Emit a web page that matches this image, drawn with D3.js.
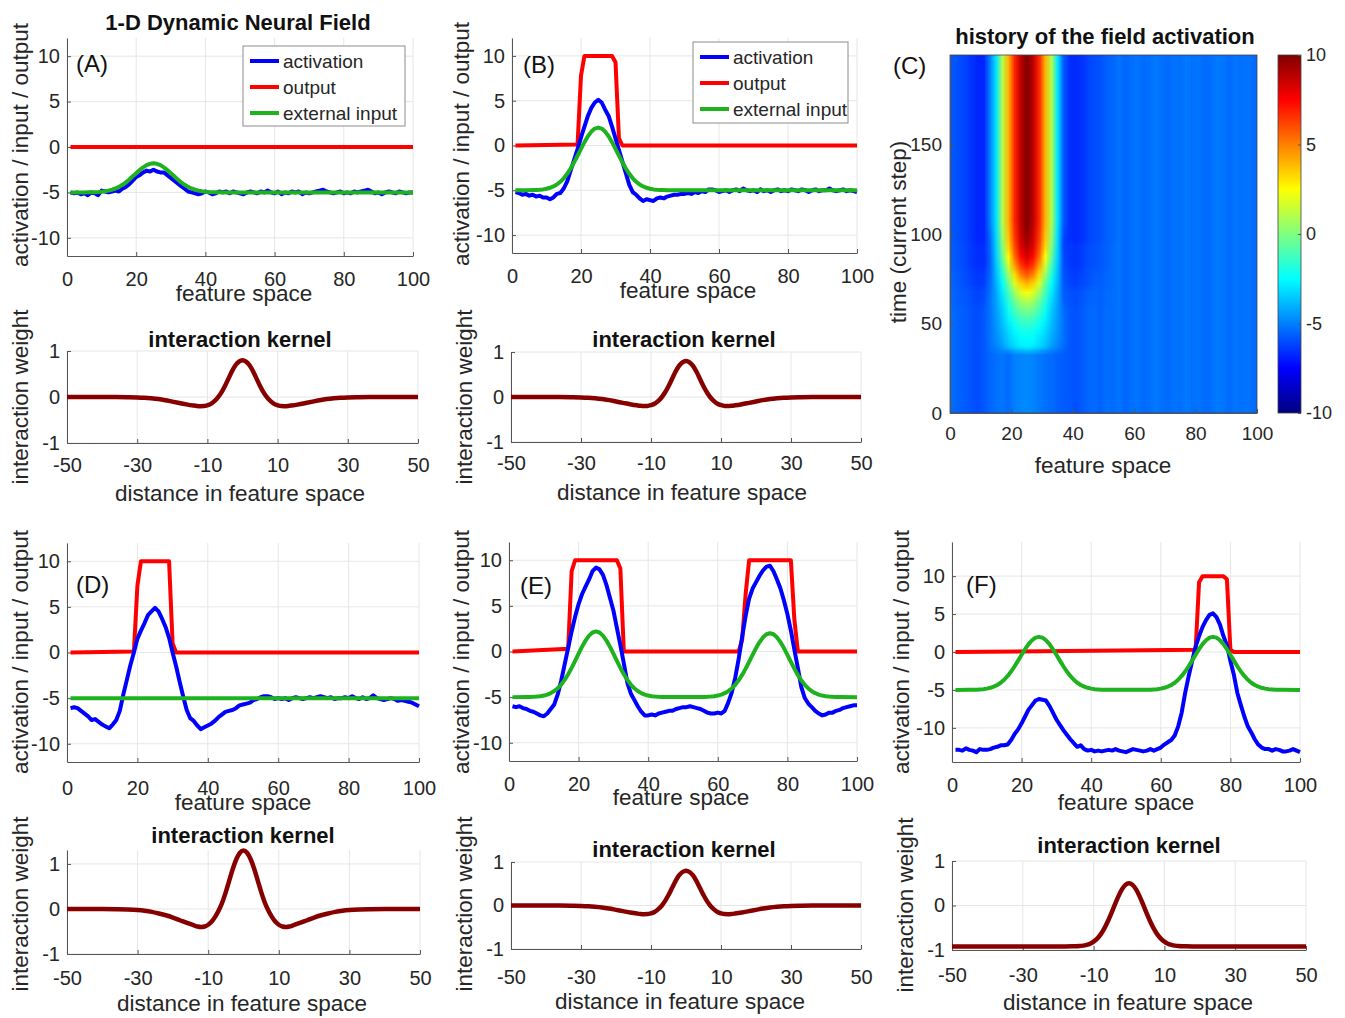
<!DOCTYPE html>
<html><head><meta charset="utf-8">
<script src="https://cdn.jsdelivr.net/npm/d3@7"></script>
<style>body{margin:0;background:#fff}</style>
</head><body>
<svg id="chart" width="1345" height="1018"></svg>
<script>
// ---------------- DATA ----------------
const fieldX = d3.range(1, 101);
const fieldTicks = [0, 20, 40, 60, 80, 100];
const fieldValueTicks = [-10, -5, 0, 5, 10];
const kernelTicks = [-50, -30, -10, 10, 30, 50];
const kernelValueTicks = [-1, 0, 1];
const timeTicks = [0, 50, 100, 150];
const colorbarTicks = [-10, -5, 0, 5, 10];
const legendLabels = ["activation", "output", "external input"];

const actA = [-5.0,-5.1,-5.0,-5.2,-5.1,-5.3,-5.0,-5.1,-5.3,-4.8,-4.9,-5.0,-4.9,-4.8,-4.9,-4.6,-4.4,-4.1,-3.7,-3.3,
-3.1,-2.8,-2.6,-2.7,-2.5,-2.7,-2.8,-2.8,-3.1,-3.4,-3.7,-4.0,-4.3,-4.6,-4.9,-5.0,-5.1,-5.2,-5.1,-4.9,
-5.0,-5.2,-5.1,-4.9,-5.0,-4.9,-5.1,-4.9,-5.0,-5.1,-5.2,-5.0,-4.9,-5.0,-5.1,-4.9,-5.0,-4.8,-5.0,-5.1,
-4.9,-5.2,-5.0,-5.1,-4.9,-5.0,-4.9,-5.2,-5.0,-5.1,-5.0,-4.9,-4.8,-4.7,-4.9,-5.0,-5.1,-5.0,-4.9,-5.1,
-5.0,-5.1,-4.9,-5.0,-4.9,-4.8,-4.7,-4.9,-5.1,-5.0,-5.2,-5.0,-4.9,-5.0,-5.1,-4.9,-5.0,-5.1,-5.0,-5.0];
const actB = [-5.2,-5.3,-5.5,-5.4,-5.6,-5.5,-5.7,-5.6,-5.8,-5.8,-6.0,-5.8,-5.4,-5.3,-4.8,-4.0,-2.8,-1.6,-0.4,0.9,
2.1,3.3,4.2,4.8,5.1,4.8,4.0,3.3,2.1,0.8,-0.5,-1.8,-3.1,-4.4,-5.2,-5.5,-5.9,-6.2,-6.0,-6.1,
-6.2,-5.9,-5.8,-5.9,-5.7,-5.6,-5.5,-5.5,-5.4,-5.4,-5.3,-5.4,-5.2,-5.3,-5.1,-5.2,-4.9,-4.9,-5.0,-5.2,
-5.1,-5.0,-5.2,-5.0,-4.9,-5.1,-4.8,-5.0,-5.1,-5.0,-5.2,-4.9,-5.1,-5.0,-5.2,-5.0,-4.9,-5.1,-5.0,-5.1,
-4.9,-5.0,-5.1,-4.9,-5.0,-5.2,-5.0,-4.9,-5.1,-5.0,-5.0,-4.8,-5.0,-5.1,-5.0,-4.9,-5.1,-5.0,-5.1,-5.2];
const actD = [-6.1,-6.0,-6.1,-6.4,-6.7,-7.0,-7.4,-7.3,-7.6,-7.9,-8.1,-8.3,-7.9,-7.4,-6.4,-4.6,-3.0,-1.4,0.0,1.5,
2.4,3.2,4.1,4.5,4.9,4.5,3.7,2.8,1.6,0.0,-1.5,-3.2,-4.8,-6.3,-7.2,-7.5,-8.0,-8.4,-8.2,-8.0,
-7.8,-7.5,-7.1,-6.8,-6.5,-6.4,-6.3,-6.1,-5.8,-5.7,-5.6,-5.5,-5.2,-5.1,-4.9,-4.8,-4.8,-4.9,-5.1,-5.0,
-5.1,-5.0,-5.2,-5.0,-4.9,-5.0,-5.1,-5.0,-4.9,-5.0,-4.9,-4.8,-4.9,-5.0,-4.9,-5.1,-5.0,-5.0,-4.9,-5.0,
-4.8,-5.0,-5.1,-4.9,-5.1,-5.0,-4.7,-5.0,-5.1,-5.2,-5.1,-5.0,-5.1,-5.3,-5.2,-5.3,-5.4,-5.5,-5.7,-5.9];
const actE = [-6.0,-6.1,-6.0,-6.2,-6.3,-6.5,-6.6,-6.8,-7.0,-7.1,-6.8,-6.3,-5.8,-4.7,-3.2,-1.4,0.4,2.2,3.8,5.2,
6.3,7.1,7.9,8.8,9.2,9.0,8.4,7.3,5.9,4.5,2.6,0.7,-1.3,-3.4,-4.6,-5.3,-6.0,-6.6,-7.0,-7.0,
-6.9,-7.0,-6.8,-6.7,-6.6,-6.5,-6.5,-6.3,-6.2,-6.1,-6.1,-6.0,-6.1,-6.2,-6.3,-6.5,-6.7,-6.8,-6.8,-6.7,
-6.8,-6.5,-5.6,-4.5,-2.9,-0.8,1.6,3.9,5.8,6.9,7.6,8.3,8.9,9.3,9.4,8.8,7.9,6.9,5.6,4.1,
2.3,0.2,-1.8,-3.9,-5.1,-5.7,-6.1,-6.5,-6.8,-7.0,-6.9,-6.7,-6.7,-6.5,-6.4,-6.2,-6.1,-6.0,-5.9,-5.9];
const actF = [-12.9,-12.9,-13.0,-12.7,-12.9,-13.0,-13.2,-12.8,-12.9,-12.9,-12.8,-12.6,-12.5,-12.3,-12.3,-12.2,-11.6,-10.8,-10.2,-9.4,
-8.5,-7.6,-7.0,-6.4,-6.2,-6.3,-6.4,-7.1,-8.0,-8.9,-9.6,-10.3,-10.9,-11.5,-12.0,-12.5,-12.3,-12.8,-13.0,-12.9,
-13.1,-13.0,-13.1,-13.0,-12.9,-13.0,-12.8,-13.0,-13.1,-13.2,-13.0,-12.8,-12.9,-13.0,-13.1,-13.0,-12.8,-13.0,-12.8,-12.6,
-12.2,-11.9,-11.6,-11.0,-9.8,-8.0,-5.4,-3.2,-1.2,0.7,2.1,3.3,4.2,4.9,5.1,4.6,3.6,2.1,0.9,-1.2,
-3.0,-5.4,-7.0,-8.5,-9.8,-10.6,-11.5,-12.2,-12.6,-12.8,-12.8,-13.0,-12.8,-12.9,-13.1,-13.1,-13.0,-12.8,-13.0,-13.2];

const outA = [[1,0],[100,0]];
const outB = [[1,0],[19,0.1],[20,7.8],[21,10],[29,10],[30,9.3],[31,0.8],[32,0],[100,0]];
const outD = [[1,0],[19,0.1],[20,7.3],[21,10],[29,10],[30,1.0],[31,0],[100,0]];
const outE = [[1,0],[17,0.3],[18,8.8],[19,10],[31,10],[32,9.1],[33,0],[66,0],[67,1.3],[68,6.3],[69,10],[81,10],[82,3.5],[83,0],[100,0]];
const outF = [[1,0],[70,0.3],[71,9.2],[72,10],[78,10],[79,9.6],[80,0.3],[81,0],[100,0]];

const inA = [[1,-5],[5,-5],[6,-4.99],[7,-4.98],[8,-4.97],[9,-4.95],[10,-4.92],[11,-4.87],[12,-4.80],[13,-4.70],[14,-4.57],[15,-4.39],[16,-4.16],[17,-3.89],[18,-3.58],[19,-3.23],[20,-2.88],[21,-2.54],[22,-2.24],[23,-2.00],[24,-1.85],[25,-1.80],
[26,-1.85],[27,-2.00],[28,-2.24],[29,-2.54],[30,-2.88],[31,-3.23],[32,-3.58],[33,-3.89],[34,-4.16],[35,-4.39],[36,-4.57],[37,-4.70],[38,-4.80],[39,-4.87],[40,-4.92],[41,-4.95],[42,-4.97],[43,-4.98],[44,-4.99],[45,-5],[100,-5]];
const inB = [[1,-5],[5,-4.99],[6,-4.98],[7,-4.97],[8,-4.94],[9,-4.90],[10,-4.83],[11,-4.72],[12,-4.57],[13,-4.35],[14,-4.05],[15,-3.66],[16,-3.16],[17,-2.57],[18,-1.88],[19,-1.14],[20,-0.37],[21,0.37],[22,1.03],[23,1.55],[24,1.89],[25,2.00],
[26,1.89],[27,1.55],[28,1.03],[29,0.37],[30,-0.37],[31,-1.14],[32,-1.88],[33,-2.57],[34,-3.16],[35,-3.66],[36,-4.05],[37,-4.35],[38,-4.57],[39,-4.72],[40,-4.83],[41,-4.90],[42,-4.94],[43,-4.97],[44,-4.98],[45,-4.99],[100,-5]];
const inD = [[1,-5],[100,-5]];
const inE = [[1,-5],[5,-4.99],[6,-4.98],[7,-4.97],[8,-4.94],[9,-4.90],[10,-4.83],[11,-4.72],[12,-4.56],[13,-4.33],[14,-4.03],[15,-3.62],[16,-3.11],[17,-2.50],[18,-1.79],[19,-1.03],[20,-0.24],[21,0.53],[22,1.20],[23,1.74],[24,2.08],[25,2.20],
[26,2.08],[27,1.74],[28,1.20],[29,0.53],[30,-0.24],[31,-1.03],[32,-1.79],[33,-2.50],[34,-3.11],[35,-3.62],[36,-4.03],[37,-4.33],[38,-4.56],[39,-4.72],[40,-4.83],[41,-4.90],[42,-4.94],[43,-4.97],[44,-4.98],[45,-4.99],
[55,-4.99],[56,-4.98],[57,-4.97],[58,-4.94],[59,-4.90],[60,-4.83],[61,-4.72],[62,-4.57],[63,-4.35],[64,-4.05],[65,-3.66],[66,-3.16],[67,-2.57],[68,-1.88],[69,-1.14],[70,-0.37],[71,0.37],[72,1.03],[73,1.55],[74,1.89],[75,2.00],
[76,1.89],[77,1.55],[78,1.03],[79,0.37],[80,-0.37],[81,-1.14],[82,-1.88],[83,-2.57],[84,-3.16],[85,-3.66],[86,-4.05],[87,-4.35],[88,-4.57],[89,-4.72],[90,-4.83],[91,-4.90],[92,-4.94],[93,-4.97],[94,-4.98],[95,-4.99],[100,-5]];
const inF = [[1,-5],[5,-4.99],[6,-4.98],[7,-4.97],[8,-4.94],[9,-4.90],[10,-4.83],[11,-4.72],[12,-4.57],[13,-4.35],[14,-4.05],[15,-3.66],[16,-3.16],[17,-2.57],[18,-1.88],[19,-1.14],[20,-0.37],[21,0.37],[22,1.03],[23,1.55],[24,1.89],[25,2.00],
[26,1.89],[27,1.55],[28,1.03],[29,0.37],[30,-0.37],[31,-1.14],[32,-1.88],[33,-2.57],[34,-3.16],[35,-3.66],[36,-4.05],[37,-4.35],[38,-4.57],[39,-4.72],[40,-4.83],[41,-4.90],[42,-4.94],[43,-4.97],[44,-4.98],[45,-4.99],
[55,-4.99],[56,-4.98],[57,-4.97],[58,-4.94],[59,-4.90],[60,-4.83],[61,-4.72],[62,-4.57],[63,-4.35],[64,-4.05],[65,-3.66],[66,-3.16],[67,-2.57],[68,-1.88],[69,-1.14],[70,-0.37],[71,0.37],[72,1.03],[73,1.55],[74,1.89],[75,2.00],
[76,1.89],[77,1.55],[78,1.03],[79,0.37],[80,-0.37],[81,-1.14],[82,-1.88],[83,-2.57],[84,-3.16],[85,-3.66],[86,-4.05],[87,-4.35],[88,-4.57],[89,-4.72],[90,-4.83],[91,-4.90],[92,-4.94],[93,-4.97],[94,-4.98],[95,-4.99],[100,-5]];

const kernelLocal = [[-50,0],[-40,0],[-36,-0.001],[-33,-0.004],[-30,-0.009],[-28,-0.016],[-26,-0.028],[-24,-0.045],[-22,-0.07],[-20,-0.10],[-18,-0.13],[-16,-0.16],[-14,-0.185],[-13,-0.195],[-12,-0.20],[-11,-0.198],[-10,-0.18],[-9,-0.15],[-8,-0.09],[-7,-0.01],[-6,0.10],[-5,0.24],[-4,0.40],[-3,0.56],[-2,0.69],[-1,0.77],[0,0.80],
[1,0.77],[2,0.69],[3,0.56],[4,0.40],[5,0.24],[6,0.10],[7,-0.01],[8,-0.09],[9,-0.15],[10,-0.18],[11,-0.198],[12,-0.20],[13,-0.195],[14,-0.185],[16,-0.16],[18,-0.13],[20,-0.10],[22,-0.07],[24,-0.045],[26,-0.028],[28,-0.016],[30,-0.009],[33,-0.004],[36,-0.001],[40,0],[50,0]];
const kernelStrong = [[-50,0],[-40,0],[-36,-0.004],[-33,-0.01],[-30,-0.023],[-28,-0.04],[-26,-0.065],[-24,-0.10],[-22,-0.14],[-20,-0.19],[-18,-0.25],[-16,-0.31],[-14,-0.365],[-13,-0.39],[-12,-0.40],[-11,-0.39],[-10,-0.35],[-9,-0.28],[-8,-0.17],[-7,-0.03],[-6,0.15],[-5,0.38],[-4,0.64],[-3,0.90],[-2,1.11],[-1,1.25],[0,1.30],
[1,1.25],[2,1.11],[3,0.90],[4,0.64],[5,0.38],[6,0.15],[7,-0.03],[8,-0.17],[9,-0.28],[10,-0.35],[11,-0.39],[12,-0.40],[13,-0.39],[14,-0.365],[16,-0.31],[18,-0.25],[20,-0.19],[22,-0.14],[24,-0.10],[26,-0.065],[28,-0.04],[30,-0.023],[33,-0.01],[36,-0.004],[40,0],[50,0]];
const kernelGlobal = [[-50,-0.92],[-18,-0.92],[-16,-0.918],[-15,-0.916],[-14,-0.911],[-13,-0.902],[-12,-0.885],[-11,-0.858],[-10,-0.813],[-9,-0.745],[-8,-0.649],[-7,-0.52],[-6,-0.361],[-5,-0.176],[-4,0.018],[-3,0.205],[-2,0.361],[-1,0.464],[0,0.50],
[1,0.464],[2,0.361],[3,0.205],[4,0.018],[5,-0.176],[6,-0.361],[7,-0.52],[8,-0.649],[9,-0.745],[10,-0.813],[11,-0.858],[12,-0.885],[13,-0.902],[14,-0.911],[15,-0.916],[16,-0.918],[18,-0.92],[50,-0.92]];

// heat map: column centres (feature space), row start times (5 steps each)
const heatCols = [1,3,5,7,9,11,13,15,17,19,21,23,25,27,29,31,33,35,37,39,41,43,45,47,49,51,53,55,57,59,61,63,65,67,69,71,73,75,77,79,81,83,85,87,89,91,93,95,97,99];
const heatRowStart = [0,5,10,15,20,25,30,35,40,45,50,55,60,65,70,75,80,85,90,95,100,105,110,115,120,125,130,135,140,145,150,155,160,165,170,175,180,185,190,195];
// background (no bump) rows, getting darker at the flanks as lateral inhibition builds up
const heatBase0 = [-5.4,-5.6,-5.7,-5.9,-6.0,-5.8,-5.5,-5.3,-5.2,-5.4,-5.0,-4.9,-4.8,-4.9,-5.1,-5.3,-5.4,-5.6,-5.7,-5.8,-5.9,-5.7,-5.5,-5.4,-5.6,-5.3,-5.4,-5.2,-5.5,-5.3,-5.2,-5.4,-5.3,-5.1,-5.3,-5.4,-5.2,-5.3,-5.1,-5.3,-5.2,-5.4,-5.3,-5.1,-5.2,-5.4,-5.2,-5.3,-5.2,-5.4];
const heatBase60 = [-5.5,-5.7,-5.8,-6.0,-6.2,-6.0,-5.7,-5.3,-5.2,-5.4,-5.0,-4.9,-4.8,-4.9,-5.1,-5.3,-5.4,-5.6,-5.8,-5.9,-6.0,-5.8,-5.6,-5.5,-5.6,-5.4,-5.4,-5.2,-5.5,-5.3,-5.2,-5.4,-5.3,-5.1,-5.3,-5.4,-5.2,-5.3,-5.1,-5.3,-5.2,-5.4,-5.3,-5.1,-5.2,-5.4,-5.2,-5.3,-5.2,-5.4];
const heatBase70 = [-5.6,-5.8,-6.0,-6.2,-6.4,-6.3,-5.9,-5.3,-5.2,-5.4,-5.0,-4.9,-4.8,-4.9,-5.1,-5.3,-5.4,-5.7,-6.0,-6.2,-6.3,-6.1,-5.9,-5.7,-5.7,-5.5,-5.4,-5.2,-5.5,-5.3,-5.2,-5.4,-5.3,-5.1,-5.3,-5.4,-5.2,-5.3,-5.1,-5.3,-5.2,-5.4,-5.3,-5.1,-5.2,-5.4,-5.2,-5.3,-5.2,-5.4];
const heatBase80 = [-5.7,-5.9,-6.1,-6.4,-6.6,-6.6,-6.1,-5.3,-5.2,-5.4,-5.0,-4.9,-4.8,-4.9,-5.1,-5.3,-5.4,-5.8,-6.1,-6.4,-6.5,-6.3,-6.0,-5.9,-5.8,-5.6,-5.4,-5.2,-5.5,-5.3,-5.2,-5.4,-5.3,-5.1,-5.3,-5.4,-5.2,-5.3,-5.1,-5.3,-5.2,-5.4,-5.3,-5.1,-5.2,-5.4,-5.2,-5.3,-5.2,-5.4];
const heatBase95 = [-5.8,-6.0,-6.2,-6.5,-6.8,-6.8,-6.3,-5.3,-5.2,-5.4,-5.0,-4.9,-4.8,-4.9,-5.1,-5.3,-5.4,-5.8,-6.2,-6.6,-6.7,-6.5,-6.2,-6.0,-5.9,-5.6,-5.5,-5.2,-5.5,-5.3,-5.2,-5.4,-5.3,-5.1,-5.3,-5.4,-5.2,-5.3,-5.1,-5.3,-5.2,-5.4,-5.3,-5.1,-5.2,-5.4,-5.2,-5.3,-5.2,-5.4];
const heatBaseStart = [0, 60, 70, 80, 95];
// bump region (x = 13..37) per row start time
const heatBumpCols = [13,15,17,19,21,23,25,27,29,31,33,35,37];
const heatBumpStart = [35,40,45,50,55,60,65,70,75,80,85,90,95,100,105];
const heatBumps = [
 [-5.3,-4.9,-4.4,-3.7,-3.2,-2.8,-2.7,-2.8,-3.2,-3.7,-4.4,-4.9,-5.4],
 [-5.2,-4.7,-4.1,-3.4,-2.9,-2.5,-2.4,-2.5,-2.9,-3.4,-4.1,-4.7,-5.3],
 [-5.2,-4.6,-3.9,-3.1,-2.5,-2.0,-1.9,-2.0,-2.5,-3.1,-3.9,-4.6,-5.3],
 [-5.2,-4.5,-3.7,-2.7,-1.9,-1.3,-1.1,-1.3,-1.9,-2.7,-3.7,-4.5,-5.3],
 [-5.2,-4.4,-3.5,-2.3,-1.2,-0.4,-0.1,-0.4,-1.2,-2.3,-3.5,-4.4,-5.4],
 [-5.2,-4.3,-3.2,-1.8,-0.4,0.6,1.0,0.6,-0.4,-1.8,-3.2,-4.3,-5.6],
 [-5.3,-4.2,-2.9,-1.2,0.6,1.9,2.4,1.9,0.6,-1.2,-2.9,-4.2,-5.7],
 [-5.4,-4.0,-2.5,-0.4,1.8,3.4,4.0,3.4,1.8,-0.4,-2.5,-4.0,-5.8],
 [-5.5,-3.8,-1.9,0.6,3.2,5.0,5.8,5.0,3.2,0.6,-1.9,-3.8,-5.9],
 [-5.6,-3.6,-1.2,1.6,4.4,6.4,7.2,6.4,4.4,1.6,-1.2,-3.6,-6.0],
 [-5.6,-3.4,-0.5,2.5,5.4,7.4,8.3,7.4,5.4,2.5,-0.5,-3.4,-6.1],
 [-5.5,-3.3,0.0,3.2,6.0,8.0,9.0,8.0,6.0,3.2,0.0,-3.3,-6.2],
 [-5.4,-3.2,0.4,3.6,6.4,8.4,9.5,8.4,6.4,3.6,0.4,-3.2,-6.2],
 [-5.2,-3.1,0.7,3.8,6.6,8.6,9.8,8.6,6.6,3.8,0.7,-3.1,-6.0],
 [-5.0,-3.0,1.0,4.0,6.8,8.8,10.0,8.8,6.8,4.0,1.0,-3.0,-5.8]
];

// ---------------- STYLE ----------------
const FONT = '"Liberation Sans", Arial, Helvetica, sans-serif';
const BLUE = "#0000ff", RED = "#ff0000", GREEN = "#1fb21f", KERNEL = "#870000";
const GRID = "#e6e6e6", AXIS = "#555555", TEXT = "#262626";
const svg = d3.select("#chart");
const pairs = arr => arr.map((v, i) => [fieldX[i], v]);
const fmt = d => String(d);

function label(x, y, s, size, opt = {}) {
  const t = svg.append("text").attr("x", x).attr("y", y).text(s)
    .attr("font-family", FONT).attr("font-size", size)
    .attr("text-anchor", opt.anchor || "middle")
    .attr("fill", opt.fill || TEXT);
  if (opt.bold) t.attr("font-weight", "bold");
  if (opt.rotate) t.attr("transform", `rotate(-90,${x},${y})`);
  return t;
}

function styleAxis(g, size) {
  g.attr("font-family", FONT).attr("font-size", size);
  g.selectAll(".domain").attr("stroke", AXIS);
  g.selectAll(".tick line").attr("stroke", AXIS);
  g.selectAll(".tick text").attr("fill", TEXT);
}

function linePanel(o) {
  const x = d3.scaleLinear().domain(o.xDom).range([o.left, o.right]);
  const y = d3.scaleLinear().domain(o.yDom).range([o.bottom, o.top]);
  const g = svg.append("g");
  g.append("g").selectAll("line").data(o.xTicks).join("line")
    .attr("x1", d => x(d)).attr("x2", d => x(d)).attr("y1", o.top).attr("y2", o.bottom)
    .attr("stroke", GRID);
  g.append("g").selectAll("line").data(o.yTicks).join("line")
    .attr("y1", d => y(d)).attr("y2", d => y(d)).attr("x1", o.left).attr("x2", o.right)
    .attr("stroke", GRID);
  const ax = g.append("g").attr("transform", `translate(0,${o.bottom})`)
    .call(d3.axisBottom(x).tickValues(o.xTicks).tickFormat(fmt).tickSizeInner(-4).tickSizeOuter(0)
      .tickPadding(o.xBase - o.bottom - 14.2));
  styleAxis(ax, 20);
  const ay = g.append("g").attr("transform", `translate(${o.left},0)`)
    .call(d3.axisLeft(y).tickValues(o.yTicks).tickFormat(fmt).tickSizeInner(-4).tickSizeOuter(0).tickPadding(7));
  styleAxis(ay, 20);
  const line = d3.line().x(d => x(d[0])).y(d => y(d[1]));
  o.series.forEach(s => {
    g.append("path").datum(s.data)
      .attr("fill", "none").attr("stroke", s.color).attr("stroke-width", s.width || 4)
      .attr("stroke-linejoin", "round")
      .attr("d", line.curve(s.curve || d3.curveLinear));
  });
  if (o.title) label(o.title.x, o.title.y, o.title.text, 22, { bold: true, fill: "#111" });
  label(o.xLabel.x, o.xLabel.y, o.xLabel.text, 22.5);
  label(o.yLabel.x, o.yLabel.y, o.yLabel.text, 22.5, { rotate: true });
  if (o.letter) label(o.letter.x, o.letter.y, o.letter.text, 24, { anchor: "start", fill: "#111" });
  if (o.legend) {
    const L = o.legend;
    svg.append("rect").attr("x", L.left).attr("y", L.top)
      .attr("width", L.right - L.left).attr("height", L.bottom - L.top)
      .attr("fill", "#fff").attr("stroke", "#8c8c8c").attr("stroke-width", 1);
    const cols = [BLUE, RED, GREEN];
    legendLabels.forEach((name, i) => {
      const yy = L.top + 15 + i * 26;
      svg.append("line").attr("x1", L.left + 7).attr("x2", L.left + 36)
        .attr("y1", yy).attr("y2", yy).attr("stroke", cols[i]).attr("stroke-width", 4);
      label(L.left + 40, yy + 6.5, name, 19, { anchor: "start" });
    });
  }
}

// ---------------- FIELD PANELS ----------------
const fieldLabel = "activation / input / output";
const fieldSeries = (out, act, inp) => [
  { data: out, color: RED }, { data: pairs(act), color: BLUE }, { data: inp, color: GREEN }];

linePanel({ left: 67, right: 413, top: 38, bottom: 256, xDom: [0, 100], yDom: [-12, 12],
  xTicks: fieldTicks, yTicks: fieldValueTicks, xBase: 286,
  series: fieldSeries(outA, actA, inA),
  title: { x: 238, y: 30, text: "1-D Dynamic Neural Field" },
  xLabel: { x: 244, y: 301, text: "feature space" },
  yLabel: { x: 28, y: 145, text: fieldLabel },
  letter: { x: 76, y: 72, text: "(A)" },
  legend: { left: 243, top: 46, right: 405, bottom: 126 } });

linePanel({ left: 512, right: 857, top: 38, bottom: 253, xDom: [0, 100], yDom: [-12, 12],
  xTicks: fieldTicks, yTicks: fieldValueTicks, xBase: 283,
  series: fieldSeries(outB, actB, inB),
  xLabel: { x: 688, y: 298, text: "feature space" },
  yLabel: { x: 469, y: 144, text: fieldLabel },
  letter: { x: 523, y: 73, text: "(B)" },
  legend: { left: 693, top: 42, right: 848, bottom: 123 } });

linePanel({ left: 67, right: 419, top: 543, bottom: 762, xDom: [0, 100], yDom: [-12, 12],
  xTicks: fieldTicks, yTicks: fieldValueTicks, xBase: 795,
  series: fieldSeries(outD, actD, inD),
  xLabel: { x: 243, y: 810, text: "feature space" },
  yLabel: { x: 28, y: 652, text: fieldLabel },
  letter: { x: 76, y: 593, text: "(D)" } });

linePanel({ left: 509, right: 857, top: 542, bottom: 761, xDom: [0, 100], yDom: [-12, 12],
  xTicks: fieldTicks, yTicks: fieldValueTicks, xBase: 791,
  series: fieldSeries(outE, actE, inE),
  xLabel: { x: 681, y: 805, text: "feature space" },
  yLabel: { x: 469, y: 652, text: fieldLabel },
  letter: { x: 520, y: 594, text: "(E)" } });

linePanel({ left: 952, right: 1300, top: 542, bottom: 762, xDom: [0, 100], yDom: [-14.5, 14.5],
  xTicks: fieldTicks, yTicks: fieldValueTicks, xBase: 792,
  series: fieldSeries(outF, actF, inF),
  xLabel: { x: 1126, y: 810, text: "feature space" },
  yLabel: { x: 909, y: 652, text: fieldLabel },
  letter: { x: 966, y: 593, text: "(F)" } });

// ---------------- KERNEL PANELS ----------------
function kernelPanel(o, data) {
  linePanel(Object.assign({ xDom: [-50, 50], xTicks: kernelTicks, yTicks: kernelValueTicks,
    series: [{ data: data, color: KERNEL, width: 4.5, curve: d3.curveMonotoneX }] }, o));
}
const kTitle = "interaction kernel", kX = "distance in feature space", kY = "interaction weight";
kernelPanel({ left: 67, right: 418, top: 351, bottom: 443, yDom: [-1, 1], xBase: 471.5,
  title: { x: 240, y: 346.5, text: kTitle }, xLabel: { x: 240, y: 501, text: kX },
  yLabel: { x: 28, y: 397, text: kY } }, kernelLocal);
kernelPanel({ left: 511, right: 861, top: 352, bottom: 442, yDom: [-1, 1], xBase: 470,
  title: { x: 684, y: 346.5, text: kTitle }, xLabel: { x: 682, y: 500, text: kX },
  yLabel: { x: 472, y: 397, text: kY } }, kernelLocal);
kernelPanel({ left: 67, right: 420, top: 850, bottom: 954, yDom: [-1, 1.31], xBase: 985,
  title: { x: 243, y: 843, text: kTitle }, xLabel: { x: 242, y: 1011, text: kX },
  yLabel: { x: 28, y: 904, text: kY } }, kernelStrong);
kernelPanel({ left: 511, right: 861, top: 862, bottom: 949, yDom: [-1, 1], xBase: 984,
  title: { x: 684, y: 856.5, text: kTitle }, xLabel: { x: 680, y: 1009, text: kX },
  yLabel: { x: 472, y: 904, text: kY } }, kernelLocal);
kernelPanel({ left: 952, right: 1306, top: 861, bottom: 950, yDom: [-1, 1], xBase: 982,
  title: { x: 1129, y: 853, text: kTitle }, xLabel: { x: 1128, y: 1010, text: kX },
  yLabel: { x: 913, y: 905, text: kY } }, kernelGlobal);

// ---------------- HEAT MAP (C) ----------------
(function () {
  const H = { left: 950, right: 1257, top: 55, bottom: 413 };
  const x = d3.scaleLinear().domain([0, 100]).range([H.left, H.right]);
  const y = d3.scaleLinear().domain([0, 200]).range([H.bottom, H.top]);
  const jet = d3.scaleLinear().domain([-10, -7.5, -2.5, 2.5, 7.5, 10])
    .range(["#000080", "#0000ff", "#00ffff", "#ffff00", "#ff0000", "#800000"]).clamp(true);
  const bases = [heatBase0, heatBase60, heatBase70, heatBase80, heatBase95];

  function heatRow(t) {
    let b = 0;
    heatBaseStart.forEach((s, i) => { if (t >= s) b = i; });
    const row = bases[b].slice();
    let k = -1;
    heatBumpStart.forEach((s, i) => { if (t >= s) k = i; });
    if (k >= 0) heatBumpCols.forEach((xc, j) => { row[heatCols.indexOf(xc)] = heatBumps[k][j]; });
    return row;
  }
  const nC = heatCols.length, nR = heatRowStart.length;
  const cv = document.createElement("canvas");
  cv.width = nC; cv.height = nR;
  const ctx = cv.getContext("2d");
  const img = ctx.createImageData(nC, nR);
  heatRowStart.forEach((t, r) => {
    heatRow(t).forEach((v, c) => {
      const col = d3.rgb(jet(v));
      const i = ((nR - 1 - r) * nC + c) * 4;
      img.data[i] = col.r; img.data[i + 1] = col.g; img.data[i + 2] = col.b; img.data[i + 3] = 255;
    });
  });
  ctx.putImageData(img, 0, 0);
  svg.append("image").attr("href", cv.toDataURL())
    .attr("x", x(0)).attr("y", y(200)).attr("width", x(100) - x(0)).attr("height", y(0) - y(200))
    .attr("preserveAspectRatio", "none");
  svg.append("rect").attr("x", H.left).attr("y", H.top).attr("width", H.right - H.left)
    .attr("height", H.bottom - H.top).attr("fill", "none").attr("stroke", "#444").attr("stroke-width", 0.8);
  const ax = svg.append("g").attr("transform", `translate(0,${H.bottom})`)
    .call(d3.axisBottom(x).tickValues(fieldTicks).tickFormat(fmt).tickSizeInner(-4).tickSizeOuter(0).tickPadding(440 - H.bottom - 13.5));
  styleAxis(ax, 19);
  const ay = svg.append("g").attr("transform", `translate(${H.left},0)`)
    .call(d3.axisLeft(y).tickValues(timeTicks).tickFormat(fmt).tickSizeInner(-4).tickSizeOuter(0).tickPadding(8));
  styleAxis(ay, 19);
  label(1105, 44, "history of the field activation", 22, { bold: true, fill: "#111" });
  label(1103, 473, "feature space", 22.5);
  label(906, 232, "time (current step)", 22.5, { rotate: true });
  label(893, 74, "(C)", 24, { anchor: "start", fill: "#111" });

  // colour bar
  const CB = { left: 1278, right: 1301, top: 55, bottom: 413 };
  const cy = d3.scaleLinear().domain([-10, 10]).range([CB.bottom, CB.top]);
  const grad = svg.append("defs").append("linearGradient").attr("id", "jetgrad")
    .attr("x1", 0).attr("y1", 1).attr("x2", 0).attr("y2", 0);
  grad.selectAll("stop").data(jet.domain()).join("stop")
    .attr("offset", d => (d + 10) / 20).attr("stop-color", d => jet(d));
  svg.append("rect").attr("x", CB.left).attr("y", CB.top).attr("width", CB.right - CB.left)
    .attr("height", CB.bottom - CB.top).attr("fill", "url(#jetgrad)").attr("stroke", "#444").attr("stroke-width", 0.8);
  const ac = svg.append("g").attr("transform", `translate(${CB.right},0)`)
    .call(d3.axisRight(cy).tickValues(colorbarTicks).tickFormat(fmt).tickSizeInner(-3).tickSizeOuter(0).tickPadding(5));
  styleAxis(ac, 18);
  ac.select(".domain").remove();
})();
</script>
</body></html>
